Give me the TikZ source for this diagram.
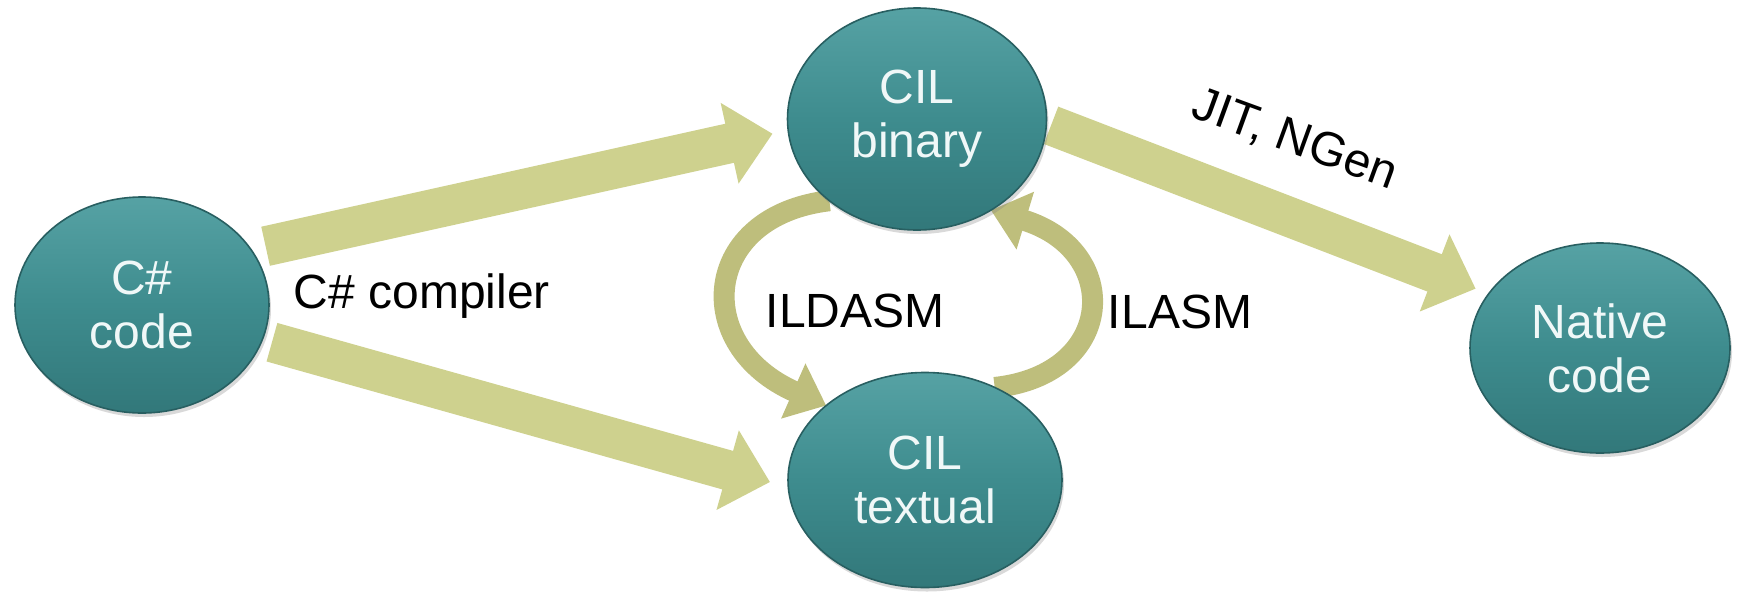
\documentclass[tikz,border=0pt]{standalone}
\usepackage{fontspec}
\setmainfont{Liberation Sans}
\usetikzlibrary{arrows.meta,shapes.geometric,shadows,backgrounds}
\definecolor{tealM}{RGB}{62,140,142}
\definecolor{tealL}{RGB}{86,162,164}
\definecolor{tealD}{RGB}{50,120,122}
\definecolor{tealE}{RGB}{40,95,97}
\definecolor{fatC}{RGB}{206,209,142}
\definecolor{curC}{RGB}{190,190,124}
\definecolor{txtW}{RGB}{240,248,248}
\begin{document}
\begin{tikzpicture}[x=0.5pt,y=-0.5pt,
  blob/.style={ellipse, inner sep=0pt, outer sep=0pt, draw=tealE, line width=0.8pt,
    top color=tealL, bottom color=tealD, middle color=tealM, text=txtW, align=center,
    font=\fontsize{24}{27}\selectfont,
    drop shadow={opacity=0.3, shadow xshift=1pt, shadow yshift=-2pt}},
  fat/.style={draw=fatC, line width=20pt, -{Triangle[length=22pt,width=40pt]}},
  curly/.style={draw=curC, line width=10.5pt, -{Triangle[length=18pt,width=29pt]}},
  lbl/.style={font=\fontsize{24}{27}\selectfont, anchor=base, inner sep=0pt}]
\useasboundingbox (0,0) rectangle (1738,595);
\node[blob, minimum width=127pt, minimum height=108pt] (csharp) at (142,305) {C\#\\code};
\node[blob, minimum width=129.5pt, minimum height=111pt] (binary) at (917,119) {CIL\\binary};
\node[blob, minimum width=137pt, minimum height=107.5pt] (textual) at (925,480) {CIL\\textual};
\node[blob, minimum width=130pt, minimum height=105pt] (native) at (1600,348) {Native\\code};
\begin{scope}[on background layer]
\draw[fat, shorten <=7.5pt, shorten >=8pt] (csharp.27) -- (binary.185);
\draw[fat, shorten <=5pt, shorten >=9.5pt] (csharp.344) -- (textual.183);
\draw[fat, shorten <=2.5pt, shorten >=7pt] (binary.358) -- (native.154);
\draw[curly] (binary.223) .. controls +(-128,15) and +(-136,-60) .. (textual.143);
\draw[curly] (textual.53) .. controls +(122,-13) and +(132,40) .. (binary.309);
\end{scope}
\node[lbl] (lcomp) at (422,308) {C\# compiler};
\node[lbl] (lildasm) at (855,327) {ILDASM};
\node[lbl] (lilasm) at (1180,328) {ILASM};
\node[lbl, rotate=-20] (ljit) at (1290,153) {JIT, NGen};
\end{tikzpicture}
\end{document}
